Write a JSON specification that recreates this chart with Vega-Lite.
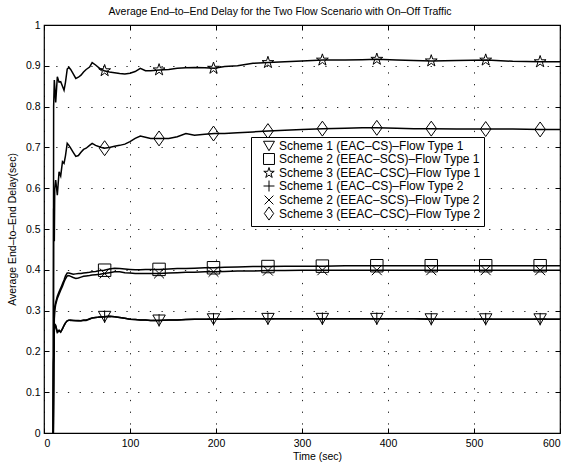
{
  "$schema": "https://vega.github.io/schema/vega-lite/v6.json",
  "width": 516,
  "height": 408,
  "autosize": {"type": "none"},
  "padding": {"left": 44, "top": 25, "right": 8, "bottom": 36},
  "title": {"text": "Average End–to–End Delay for the Two Flow Scenario with On–Off Traffic", "font": "Liberation Sans", "fontSize": 10.5, "fontWeight": "normal", "color": "black", "dx": -22, "offset": 3},
  "datasets": {
    "lines": [
      {"t": 10.8, "S1F1": 0, "S2F1": 0, "S3F1": 0, "S1F2": 0, "S2F2": 0, "S3F2": 0},
      {"t": 11.2, "S1F1": 0.17, "S2F1": 0.17, "S3F1": 0.80, "S1F2": 0.17, "S2F2": 0.17, "S3F2": 0.55},
      {"t": 12.0, "S1F1": 0.25, "S2F1": 0.29, "S3F1": 0.865, "S1F2": 0.25, "S2F2": 0.28, "S3F2": 0.47},
      {"t": 12.5, "S1F1": 0.267, "S2F1": 0.31, "S3F1": 0.85, "S1F2": 0.265, "S2F2": 0.30, "S3F2": 0.60},
      {"t": 13.6, "S1F1": 0.264, "S2F1": 0.32, "S3F1": 0.81, "S1F2": 0.262, "S2F2": 0.315, "S3F2": 0.62},
      {"t": 15.5, "S1F1": 0.246, "S2F1": 0.335, "S3F1": 0.873, "S1F2": 0.248, "S2F2": 0.33, "S3F2": 0.583},
      {"t": 17.5, "S1F1": 0.25, "S2F1": 0.346, "S3F1": 0.86, "S1F2": 0.252, "S2F2": 0.34, "S3F2": 0.64},
      {"t": 19.4, "S1F1": 0.248, "S2F1": 0.355, "S3F1": 0.861, "S1F2": 0.247, "S2F2": 0.35, "S3F2": 0.63},
      {"t": 21.5, "S1F1": 0.255, "S2F1": 0.366, "S3F1": 0.85, "S1F2": 0.256, "S2F2": 0.36, "S3F2": 0.665},
      {"t": 23.3, "S1F1": 0.264, "S2F1": 0.375, "S3F1": 0.84, "S1F2": 0.263, "S2F2": 0.37, "S3F2": 0.661},
      {"t": 25, "S1F1": 0.27, "S2F1": 0.385, "S3F1": 0.86, "S1F2": 0.27, "S2F2": 0.378, "S3F2": 0.68},
      {"t": 27, "S1F1": 0.275, "S2F1": 0.392, "S3F1": 0.892, "S1F2": 0.275, "S2F2": 0.385, "S3F2": 0.71},
      {"t": 29, "S1F1": 0.277, "S2F1": 0.392, "S3F1": 0.896, "S1F2": 0.276, "S2F2": 0.386, "S3F2": 0.705},
      {"t": 31, "S1F1": 0.276, "S2F1": 0.391, "S3F1": 0.891, "S1F2": 0.277, "S2F2": 0.384, "S3F2": 0.698},
      {"t": 34, "S1F1": 0.276, "S2F1": 0.389, "S3F1": 0.88, "S1F2": 0.276, "S2F2": 0.381, "S3F2": 0.688},
      {"t": 37, "S1F1": 0.276, "S2F1": 0.39, "S3F1": 0.869, "S1F2": 0.275, "S2F2": 0.379, "S3F2": 0.678},
      {"t": 40, "S1F1": 0.275, "S2F1": 0.391, "S3F1": 0.872, "S1F2": 0.276, "S2F2": 0.38, "S3F2": 0.68},
      {"t": 43, "S1F1": 0.275, "S2F1": 0.391, "S3F1": 0.877, "S1F2": 0.275, "S2F2": 0.382, "S3F2": 0.688},
      {"t": 46, "S1F1": 0.276, "S2F1": 0.392, "S3F1": 0.885, "S1F2": 0.277, "S2F2": 0.384, "S3F2": 0.695},
      {"t": 49, "S1F1": 0.276, "S2F1": 0.393, "S3F1": 0.891, "S1F2": 0.277, "S2F2": 0.385, "S3F2": 0.698},
      {"t": 53, "S1F1": 0.28, "S2F1": 0.394, "S3F1": 0.897, "S1F2": 0.279, "S2F2": 0.386, "S3F2": 0.705},
      {"t": 56, "S1F1": 0.282, "S2F1": 0.395, "S3F1": 0.908, "S1F2": 0.282, "S2F2": 0.387, "S3F2": 0.71},
      {"t": 60, "S1F1": 0.283, "S2F1": 0.396, "S3F1": 0.902, "S1F2": 0.283, "S2F2": 0.388, "S3F2": 0.705},
      {"t": 65, "S1F1": 0.284, "S2F1": 0.398, "S3F1": 0.893, "S1F2": 0.284, "S2F2": 0.389, "S3F2": 0.701},
      {"t": 70, "S1F1": 0.285, "S2F1": 0.399, "S3F1": 0.888, "S1F2": 0.285, "S2F2": 0.391, "S3F2": 0.698},
      {"t": 76, "S1F1": 0.286, "S2F1": 0.402, "S3F1": 0.885, "S1F2": 0.286, "S2F2": 0.393, "S3F2": 0.7},
      {"t": 82, "S1F1": 0.285, "S2F1": 0.404, "S3F1": 0.883, "S1F2": 0.285, "S2F2": 0.395, "S3F2": 0.703},
      {"t": 88, "S1F1": 0.283, "S2F1": 0.403, "S3F1": 0.881, "S1F2": 0.283, "S2F2": 0.395, "S3F2": 0.705},
      {"t": 94, "S1F1": 0.281, "S2F1": 0.402, "S3F1": 0.88, "S1F2": 0.281, "S2F2": 0.393, "S3F2": 0.708},
      {"t": 100, "S1F1": 0.279, "S2F1": 0.401, "S3F1": 0.882, "S1F2": 0.279, "S2F2": 0.392, "S3F2": 0.714},
      {"t": 106, "S1F1": 0.278, "S2F1": 0.4, "S3F1": 0.886, "S1F2": 0.278, "S2F2": 0.391, "S3F2": 0.722},
      {"t": 112, "S1F1": 0.277, "S2F1": 0.4, "S3F1": 0.894, "S1F2": 0.277, "S2F2": 0.391, "S3F2": 0.728},
      {"t": 118, "S1F1": 0.277, "S2F1": 0.401, "S3F1": 0.888, "S1F2": 0.277, "S2F2": 0.391, "S3F2": 0.725},
      {"t": 124, "S1F1": 0.276, "S2F1": 0.401, "S3F1": 0.888, "S1F2": 0.276, "S2F2": 0.391, "S3F2": 0.722},
      {"t": 134, "S1F1": 0.276, "S2F1": 0.401, "S3F1": 0.89, "S1F2": 0.276, "S2F2": 0.391, "S3F2": 0.722},
      {"t": 145, "S1F1": 0.277, "S2F1": 0.402, "S3F1": 0.891, "S1F2": 0.277, "S2F2": 0.392, "S3F2": 0.722},
      {"t": 155, "S1F1": 0.277, "S2F1": 0.403, "S3F1": 0.894, "S1F2": 0.277, "S2F2": 0.393, "S3F2": 0.726},
      {"t": 165, "S1F1": 0.278, "S2F1": 0.403, "S3F1": 0.895, "S1F2": 0.278, "S2F2": 0.394, "S3F2": 0.734},
      {"t": 175, "S1F1": 0.279, "S2F1": 0.404, "S3F1": 0.896, "S1F2": 0.279, "S2F2": 0.394, "S3F2": 0.73},
      {"t": 187, "S1F1": 0.279, "S2F1": 0.405, "S3F1": 0.895, "S1F2": 0.279, "S2F2": 0.395, "S3F2": 0.732},
      {"t": 198, "S1F1": 0.279, "S2F1": 0.405, "S3F1": 0.894, "S1F2": 0.279, "S2F2": 0.395, "S3F2": 0.734},
      {"t": 210, "S1F1": 0.279, "S2F1": 0.406, "S3F1": 0.898, "S1F2": 0.279, "S2F2": 0.396, "S3F2": 0.734},
      {"t": 225, "S1F1": 0.28, "S2F1": 0.407, "S3F1": 0.9, "S1F2": 0.28, "S2F2": 0.397, "S3F2": 0.736},
      {"t": 243, "S1F1": 0.28, "S2F1": 0.408, "S3F1": 0.906, "S1F2": 0.28, "S2F2": 0.397, "S3F2": 0.738},
      {"t": 261, "S1F1": 0.28, "S2F1": 0.408, "S3F1": 0.908, "S1F2": 0.28, "S2F2": 0.398, "S3F2": 0.74},
      {"t": 280, "S1F1": 0.28, "S2F1": 0.409, "S3F1": 0.91, "S1F2": 0.28, "S2F2": 0.398, "S3F2": 0.742},
      {"t": 300, "S1F1": 0.28, "S2F1": 0.409, "S3F1": 0.912, "S1F2": 0.28, "S2F2": 0.399, "S3F2": 0.744},
      {"t": 324, "S1F1": 0.28, "S2F1": 0.409, "S3F1": 0.914, "S1F2": 0.28, "S2F2": 0.399, "S3F2": 0.746},
      {"t": 350, "S1F1": 0.28, "S2F1": 0.41, "S3F1": 0.914, "S1F2": 0.28, "S2F2": 0.399, "S3F2": 0.747},
      {"t": 370, "S1F1": 0.28, "S2F1": 0.41, "S3F1": 0.915, "S1F2": 0.28, "S2F2": 0.399, "S3F2": 0.748},
      {"t": 387, "S1F1": 0.28, "S2F1": 0.41, "S3F1": 0.916, "S1F2": 0.28, "S2F2": 0.399, "S3F2": 0.748},
      {"t": 410, "S1F1": 0.28, "S2F1": 0.41, "S3F1": 0.914, "S1F2": 0.28, "S2F2": 0.399, "S3F2": 0.747},
      {"t": 430, "S1F1": 0.28, "S2F1": 0.41, "S3F1": 0.913, "S1F2": 0.28, "S2F2": 0.399, "S3F2": 0.746},
      {"t": 451, "S1F1": 0.279, "S2F1": 0.41, "S3F1": 0.912, "S1F2": 0.279, "S2F2": 0.399, "S3F2": 0.746},
      {"t": 480, "S1F1": 0.279, "S2F1": 0.41, "S3F1": 0.913, "S1F2": 0.279, "S2F2": 0.399, "S3F2": 0.745},
      {"t": 515, "S1F1": 0.279, "S2F1": 0.41, "S3F1": 0.914, "S1F2": 0.279, "S2F2": 0.399, "S3F2": 0.745},
      {"t": 545, "S1F1": 0.279, "S2F1": 0.41, "S3F1": 0.911, "S1F2": 0.279, "S2F2": 0.399, "S3F2": 0.745},
      {"t": 577, "S1F1": 0.279, "S2F1": 0.41, "S3F1": 0.91, "S1F2": 0.279, "S2F2": 0.399, "S3F2": 0.744},
      {"t": 600, "S1F1": 0.279, "S2F1": 0.41, "S3F1": 0.91, "S1F2": 0.279, "S2F2": 0.399, "S3F2": 0.744}
    ],
    "marks": [
      {"t": 70.5, "S1F1": 0.285, "S2F1": 0.399, "S3F1": 0.888, "S1F2": 0.285, "S2F2": 0.391, "S3F2": 0.698},
      {"t": 133.8, "S1F1": 0.276, "S2F1": 0.401, "S3F1": 0.89, "S1F2": 0.276, "S2F2": 0.391, "S3F2": 0.722},
      {"t": 197.1, "S1F1": 0.279, "S2F1": 0.405, "S3F1": 0.894, "S1F2": 0.279, "S2F2": 0.395, "S3F2": 0.734},
      {"t": 260.4, "S1F1": 0.28, "S2F1": 0.408, "S3F1": 0.908, "S1F2": 0.28, "S2F2": 0.398, "S3F2": 0.74},
      {"t": 323.7, "S1F1": 0.28, "S2F1": 0.409, "S3F1": 0.914, "S1F2": 0.28, "S2F2": 0.399, "S3F2": 0.746},
      {"t": 387, "S1F1": 0.28, "S2F1": 0.41, "S3F1": 0.916, "S1F2": 0.28, "S2F2": 0.399, "S3F2": 0.748},
      {"t": 450.3, "S1F1": 0.279, "S2F1": 0.41, "S3F1": 0.912, "S1F2": 0.279, "S2F2": 0.399, "S3F2": 0.746},
      {"t": 513.6, "S1F1": 0.279, "S2F1": 0.41, "S3F1": 0.914, "S1F2": 0.279, "S2F2": 0.399, "S3F2": 0.745},
      {"t": 576.9, "S1F1": 0.279, "S2F1": 0.41, "S3F1": 0.91, "S1F2": 0.279, "S2F2": 0.399, "S3F2": 0.744}
    ]
  },
  "config": {
    "view": {"stroke": "black", "strokeWidth": 1.2},
    "axis": {
      "labelFont": "Liberation Sans", "labelFontSize": 10.5, "labelColor": "black",
      "titleFont": "Liberation Sans", "titleFontSize": 10.5, "titleFontWeight": "normal", "titleColor": "black",
      "domain": false, "tickColor": "black", "tickSize": -5, "tickWidth": 1,
      "gridColor": "black", "gridDash": [1.3, 10.4], "gridOpacity": 0.85, "gridWidth": 1
    }
  },
  "layer": [
    {
      "data": {"name": "lines"},
      "transform": [{"fold": ["S1F1", "S2F1", "S3F1", "S1F2", "S2F2", "S3F2"], "as": ["series", "v"]}],
      "mark": {"type": "line", "color": "black", "strokeWidth": 1.5},
      "encoding": {
        "x": {"field": "t", "type": "quantitative", "scale": {"domain": [0, 600], "nice": false},
              "axis": {"values": [0, 100, 200, 300, 400, 500, 600], "title": "Time (sec)", "grid": true, "labelPadding": 10, "titlePadding": 3, "titleX": 273}},
        "y": {"field": "v", "type": "quantitative", "scale": {"domain": [0, 1], "nice": false},
              "axis": {"values": [0, 0.1, 0.2, 0.3, 0.4, 0.5, 0.6, 0.7, 0.8, 0.9, 1], "format": "~g", "title": "Average End–to–End Delay(sec)", "grid": true, "labelPadding": 9, "titlePadding": 8}},
        "detail": {"field": "series", "type": "nominal"}
      }
    },
    {
      "data": {"name": "marks"},
      "transform": [{"fold": ["S1F1", "S2F1", "S3F1", "S1F2", "S2F2", "S3F2"], "as": ["series", "v"]}],
      "mark": {"type": "point", "filled": false, "color": "black", "strokeWidth": 1, "size": 155, "opacity": 1},
      "encoding": {
        "x": {"field": "t", "type": "quantitative", "scale": {"domain": [0, 600], "nice": false},
              "axis": {"orient": "top", "values": [0, 100, 200, 300, 400, 500, 600], "labels": false, "grid": false, "title": null}},
        "y": {"field": "v", "type": "quantitative", "scale": {"domain": [0, 1], "nice": false},
              "axis": {"orient": "right", "values": [0, 0.1, 0.2, 0.3, 0.4, 0.5, 0.6, 0.7, 0.8, 0.9, 1], "labels": false, "grid": false, "title": null}},
        "shape": {
          "field": "series", "type": "nominal",
          "scale": {"domain": ["S1F1", "S2F1", "S3F1", "S1F2", "S2F2", "S3F2"],
                    "range": ["triangle-down", "square", "M0,-1L0.225,-0.309L0.951,-0.309L0.363,0.118L0.588,0.809L0,0.382L-0.588,0.809L-0.363,0.118L-0.951,-0.309L-0.225,-0.309Z", "M-1,0L1,0M0,-1L0,1", "M-0.8,-0.8L0.8,0.8M-0.8,0.8L0.8,-0.8", "M0,-1.2L0.85,0L0,1.2L-0.85,0Z"]},
          "legend": {
            "title": null, "orient": "none", "legendX": 207, "legendY": 112,
            "fillColor": "white", "strokeColor": "black", "padding": 3,
            "labelFont": "Liberation Sans", "labelFontSize": 12, "labelColor": "black", "labelLimit": 400,
            "symbolStrokeColor": "black", "symbolStrokeWidth": 1, "symbolSize": 120, "symbolOffset": 9, "labelOffset": 4, "rowPadding": -2.5,
            "encode": {"legend": {"update": {"strokeWidth": {"value": 1.5}}}},
            "labelExpr": "datum.label == 'S1F1' ? 'Scheme 1 (EAC–CS)–Flow Type 1' : datum.label == 'S2F1' ? 'Scheme 2 (EEAC–SCS)–Flow Type 1' : datum.label == 'S3F1' ? 'Scheme 3 (EEAC–CSC)–Flow Type 1' : datum.label == 'S1F2' ? 'Scheme 1 (EAC–CS)–Flow Type 2' : datum.label == 'S2F2' ? 'Scheme 2 (EEAC–SCS)–Flow Type 2' : 'Scheme 3 (EEAC–CSC)–Flow Type 2'"
          }
        }
      }
    }
  ],
  "resolve": {"axis": {"x": "independent", "y": "independent"}}
}
